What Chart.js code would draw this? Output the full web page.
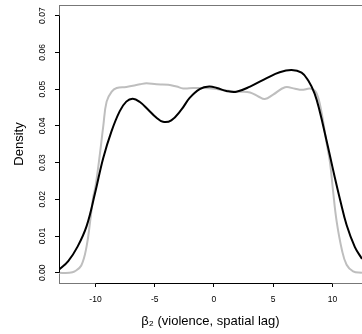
<!DOCTYPE html>
<html><head><meta charset="utf-8">
<script src="https://cdn.jsdelivr.net/npm/chart.js@4/dist/chart.umd.min.js"></script>
<style>html,body{margin:0;padding:0;background:#fff;overflow:hidden}canvas{display:block}</style>
</head><body>
<canvas id="c" width="362" height="334"></canvas>
<script>
const xTicks = [-10, -5, 0, 5, 10];
const yTicks = [0, 0.01, 0.02, 0.03, 0.04, 0.05, 0.06, 0.07];

const blackX = [-13.1, -12.3, -11.5, -10.75, -10.05, -9.35, -8.65, -7.95, -7.4, -6.85, -6.25, -5.55, -4.85, -4.3, -3.6, -2.75, -2.05, -1.2, -0.4, 0.25, 1.05, 1.9, 3.05, 4.45, 5.55, 6.55, 7.4, 7.95, 8.5, 8.95, 9.4, 9.8, 10.2, 10.65, 11.2, 11.9, 12.5];
const blackY = [0.0008, 0.0032, 0.0072, 0.0127, 0.0215, 0.0312, 0.0385, 0.0440, 0.0466, 0.0474, 0.0465, 0.0444, 0.0422, 0.0411, 0.0415, 0.0444, 0.0476, 0.0500, 0.0507, 0.0503, 0.0495, 0.0493, 0.0507, 0.0530, 0.0546, 0.0552, 0.0545, 0.0524, 0.0488, 0.0437, 0.0375, 0.0318, 0.0260, 0.0199, 0.0130, 0.0070, 0.0038];

const greyX = [-13.1, -12.2, -11.75, -11.2, -10.75, -10.45, -10.2, -10.0, -9.62, -9.34, -9.06, -8.63, -8.21, -7.4, -6.25, -5.7, -4.85, -3.85, -3.15, -2.6, -1.75, -0.9, 0.0, 1.05, 2.2, 3.05, 3.75, 4.3, 5.0, 6.0, 6.85, 7.4, 8.2, 8.66, 9.08, 9.5, 9.8, 10.05, 10.35, 10.8, 11.2, 11.75, 12.5];
const greyY = [0, 0, 0.0004, 0.0020, 0.0072, 0.0140, 0.0205, 0.0235, 0.0325, 0.0400, 0.0466, 0.0493, 0.0503, 0.0506, 0.0513, 0.0516, 0.0513, 0.0512, 0.0507, 0.0502, 0.0503, 0.0503, 0.0501, 0.0496, 0.0493, 0.0491, 0.0480, 0.0473, 0.0485, 0.0505, 0.0501, 0.0498, 0.0501, 0.0489, 0.0437, 0.0355, 0.0300, 0.0225, 0.0142, 0.0063, 0.0022, 0.0004, 0];

const xTitle = 'β₂ (violence, spatial lag)';
const yTitle = 'Density';

const toPts = (xs, ys) => xs.map((x, i) => ({ x: x, y: ys[i] }));

const frame = {
  id: 'frame',
  afterDraw(chart) {
    const { ctx, chartArea: a, scales: { x, y } } = chart;
    ctx.save();
    ctx.lineWidth = 1;
    ctx.strokeStyle = '#777';
    ctx.beginPath();
    ctx.moveTo(a.left, a.top + 0.5);
    ctx.lineTo(a.right, a.top + 0.5);
    ctx.stroke();
    ctx.strokeStyle = '#000';
    ctx.beginPath();
    const by = Math.round(a.bottom) + 0.5;
    ctx.moveTo(x.getPixelForValue(xTicks[0]), by);
    ctx.lineTo(x.getPixelForValue(xTicks[xTicks.length - 1]), by);
    const lx = Math.round(a.left) + 0.5;
    ctx.moveTo(lx, y.getPixelForValue(yTicks[0]));
    ctx.lineTo(lx, y.getPixelForValue(yTicks[yTicks.length - 1]));
    ctx.stroke();
    ctx.restore();
  }
};

const font = { family: "'Liberation Sans', Arial, sans-serif", size: 8.5 };

new Chart(document.getElementById('c'), {
  type: 'line',
  data: {
    datasets: [
      { data: toPts(blackX, blackY), borderColor: '#000', borderWidth: 2, pointRadius: 0, tension: 0.4, fill: false },
      { data: toPts(greyX, greyY), borderColor: '#bebebe', borderWidth: 2, pointRadius: 0, tension: 0.4, fill: false }
    ]
  },
  options: {
    responsive: false,
    devicePixelRatio: 1,
    animation: false,
    layout: { padding: { top: 5, left: 0, right: 0, bottom: 0 } },
    plugins: { legend: { display: false }, tooltip: { enabled: false } },
    scales: {
      x: {
        type: 'linear', min: -13.08, max: 12.5,
        afterBuildTicks: s => { s.ticks = xTicks.map(v => ({ value: v })); },
        afterFit: s => { s.height = 51; s.paddingLeft = 0; s.paddingRight = 0; },
        grid: { drawOnChartArea: false, drawTicks: true, tickLength: 4, color: '#000' },
        border: { display: true, color: '#777', width: 1 },
        ticks: { color: '#000', font: font, padding: 8, maxRotation: 0, callback: v => String(v) },
        title: { display: true, text: xTitle, color: '#000', font: { family: font.family, size: 13 }, padding: { top: 0, bottom: 5 } }
      },
      y: {
        type: 'linear', min: -0.00277, max: 0.0729,
        afterBuildTicks: s => { s.ticks = yTicks.map(v => ({ value: v })); },
        afterFit: s => { s.width = 59; s.paddingTop = 0; s.paddingBottom = 0; },
        grid: { drawOnChartArea: false, drawTicks: true, tickLength: 4, color: '#000' },
        border: { display: true, color: '#777', width: 1 },
        ticks: { color: '#000', font: font, padding: 4, minRotation: 90, maxRotation: 90, crossAlign: 'center', callback: v => v.toFixed(2) },
        title: { display: true, text: yTitle, color: '#000', font: { family: font.family, size: 13 }, padding: { top: 12, bottom: 0 } }
      }
    }
  },
  plugins: [frame]
});
</script>
</body></html>
